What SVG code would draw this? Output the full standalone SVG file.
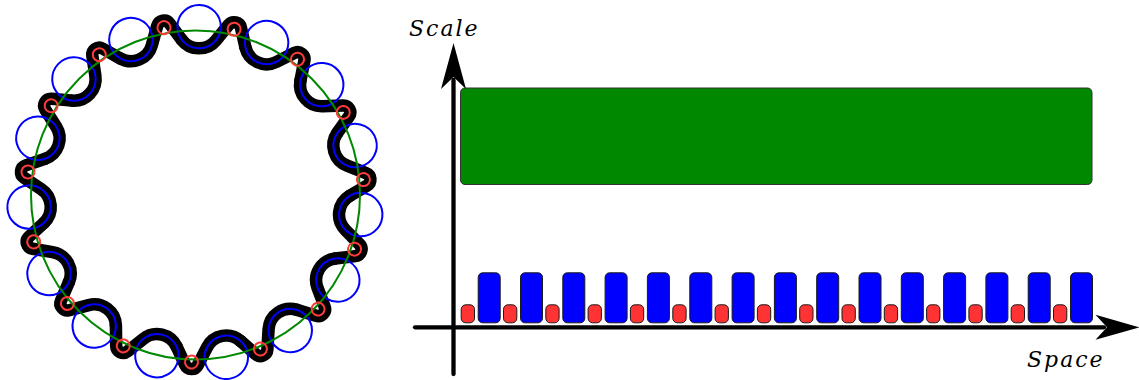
<svg xmlns="http://www.w3.org/2000/svg" width="1139" height="380" viewBox="0 0 1139 380">
<style>
.blk{fill:none;stroke:#000;stroke-width:12.5;stroke-linecap:round;stroke-linejoin:round}
.bc{fill:none;stroke:#0000ff;stroke-width:2}
.rc{fill:none;stroke:#ff3b3b;stroke-width:2}
.gc{fill:none;stroke:#008800;stroke-width:2}
.bb{fill:#0000ff;stroke:#1a1a1a;stroke-width:1}
.rb{fill:#ff3333;stroke:#1a1a1a;stroke-width:1}
.axis{stroke:#000;stroke-width:4.3;stroke-linecap:round;fill:none}
.lbl{font-family:"DejaVu Serif",serif;font-style:italic;font-size:22px;letter-spacing:2px;fill:#000}
</style>
<defs>
<path id="seg" d="M-17.076,-153.409 A21.7,21.7 0 0 0 17.076,-153.409 L29.566,-169.334 A7,7 0 0 1 41.864,-166.721 L46.797,-147.093"/>
<circle id="bcirc" cx="0" cy="-166.8" r="21.7"/>
<circle id="rcirc" cx="35.074" cy="-165.014" r="6.5"/>
</defs>

<g id="ring" transform="translate(195.3,193.4)">
<g id="curve" class="blk">
<use href="#seg" transform="rotate(1.3)"/>
<use href="#seg" transform="rotate(25.3)"/>
<use href="#seg" transform="rotate(49.3)"/>
<use href="#seg" transform="rotate(73.3)"/>
<use href="#seg" transform="rotate(97.3)"/>
<use href="#seg" transform="rotate(121.3)"/>
<use href="#seg" transform="rotate(145.3)"/>
<use href="#seg" transform="rotate(169.3)"/>
<use href="#seg" transform="rotate(193.3)"/>
<use href="#seg" transform="rotate(217.3)"/>
<use href="#seg" transform="rotate(241.3)"/>
<use href="#seg" transform="rotate(265.3)"/>
<use href="#seg" transform="rotate(289.3)"/>
<use href="#seg" transform="rotate(313.3)"/>
<use href="#seg" transform="rotate(337.3)"/>
</g>
<g id="blue-circles" class="bc">
<use href="#bcirc" transform="rotate(1.3)"/>
<use href="#bcirc" transform="rotate(25.3)"/>
<use href="#bcirc" transform="rotate(49.3)"/>
<use href="#bcirc" transform="rotate(73.3)"/>
<use href="#bcirc" transform="rotate(97.3)"/>
<use href="#bcirc" transform="rotate(121.3)"/>
<use href="#bcirc" transform="rotate(145.3)"/>
<use href="#bcirc" transform="rotate(169.3)"/>
<use href="#bcirc" transform="rotate(193.3)"/>
<use href="#bcirc" transform="rotate(217.3)"/>
<use href="#bcirc" transform="rotate(241.3)"/>
<use href="#bcirc" transform="rotate(265.3)"/>
<use href="#bcirc" transform="rotate(289.3)"/>
<use href="#bcirc" transform="rotate(313.3)"/>
<use href="#bcirc" transform="rotate(337.3)"/>
</g>
<circle id="green-circle" class="gc" cx="0.2" cy="1.6" r="164.5"/>
<g id="red-circles" class="rc">
<use href="#rcirc" transform="rotate(1.3)"/>
<use href="#rcirc" transform="rotate(25.3)"/>
<use href="#rcirc" transform="rotate(49.3)"/>
<use href="#rcirc" transform="rotate(73.3)"/>
<use href="#rcirc" transform="rotate(97.3)"/>
<use href="#rcirc" transform="rotate(121.3)"/>
<use href="#rcirc" transform="rotate(145.3)"/>
<use href="#rcirc" transform="rotate(169.3)"/>
<use href="#rcirc" transform="rotate(193.3)"/>
<use href="#rcirc" transform="rotate(217.3)"/>
<use href="#rcirc" transform="rotate(241.3)"/>
<use href="#rcirc" transform="rotate(265.3)"/>
<use href="#rcirc" transform="rotate(289.3)"/>
<use href="#rcirc" transform="rotate(313.3)"/>
<use href="#rcirc" transform="rotate(337.3)"/>
</g>
</g>

<g id="chart">
<rect id="large-scale" x="460.5" y="88" width="631.5" height="96.5" rx="4.5" fill="#008800" stroke="#333" stroke-width="1"/>
<g id="small-bars" class="rb">
<rect x="461.2" y="304.8" width="13.3" height="18" rx="4.5"/>
<rect x="503.5" y="304.8" width="13.3" height="18" rx="4.5"/>
<rect x="545.8" y="304.8" width="13.3" height="18" rx="4.5"/>
<rect x="588.1" y="304.8" width="13.3" height="18" rx="4.5"/>
<rect x="630.4" y="304.8" width="13.3" height="18" rx="4.5"/>
<rect x="672.8" y="304.8" width="13.3" height="18" rx="4.5"/>
<rect x="715.1" y="304.8" width="13.3" height="18" rx="4.5"/>
<rect x="757.4" y="304.8" width="13.3" height="18" rx="4.5"/>
<rect x="799.7" y="304.8" width="13.3" height="18" rx="4.5"/>
<rect x="842.0" y="304.8" width="13.3" height="18" rx="4.5"/>
<rect x="884.3" y="304.8" width="13.3" height="18" rx="4.5"/>
<rect x="926.6" y="304.8" width="13.3" height="18" rx="4.5"/>
<rect x="968.9" y="304.8" width="13.3" height="18" rx="4.5"/>
<rect x="1011.2" y="304.8" width="13.3" height="18" rx="4.5"/>
<rect x="1053.5" y="304.8" width="13.3" height="18" rx="4.5"/>
</g>
<g id="medium-bars" class="bb">
<rect x="478.2" y="272.8" width="22" height="50" rx="4.5"/>
<rect x="520.5" y="272.8" width="22" height="50" rx="4.5"/>
<rect x="562.8" y="272.8" width="22" height="50" rx="4.5"/>
<rect x="605.1" y="272.8" width="22" height="50" rx="4.5"/>
<rect x="647.4" y="272.8" width="22" height="50" rx="4.5"/>
<rect x="689.8" y="272.8" width="22" height="50" rx="4.5"/>
<rect x="732.1" y="272.8" width="22" height="50" rx="4.5"/>
<rect x="774.4" y="272.8" width="22" height="50" rx="4.5"/>
<rect x="816.7" y="272.8" width="22" height="50" rx="4.5"/>
<rect x="859.0" y="272.8" width="22" height="50" rx="4.5"/>
<rect x="901.3" y="272.8" width="22" height="50" rx="4.5"/>
<rect x="943.6" y="272.8" width="22" height="50" rx="4.5"/>
<rect x="985.9" y="272.8" width="22" height="50" rx="4.5"/>
<rect x="1028.2" y="272.8" width="22" height="50" rx="4.5"/>
<rect x="1070.5" y="272.8" width="22" height="50" rx="4.5"/>
</g>
<g id="axes">
<line class="axis" x1="453.5" y1="374" x2="453.5" y2="80"/>
<polygon points="453.5,43 441,89 453.5,77 466,89" fill="#000"/>
<line class="axis" x1="415" y1="327.3" x2="1104" y2="327.3"/>
<polygon points="1139.5,327.3 1095.5,314.8 1107,327.3 1095.5,339.8" fill="#000"/>
</g>
<text id="y-label" class="lbl" x="409" y="36">Scale</text>
<text id="x-label" class="lbl" x="1027" y="367">Space</text>
</g>
</svg>
